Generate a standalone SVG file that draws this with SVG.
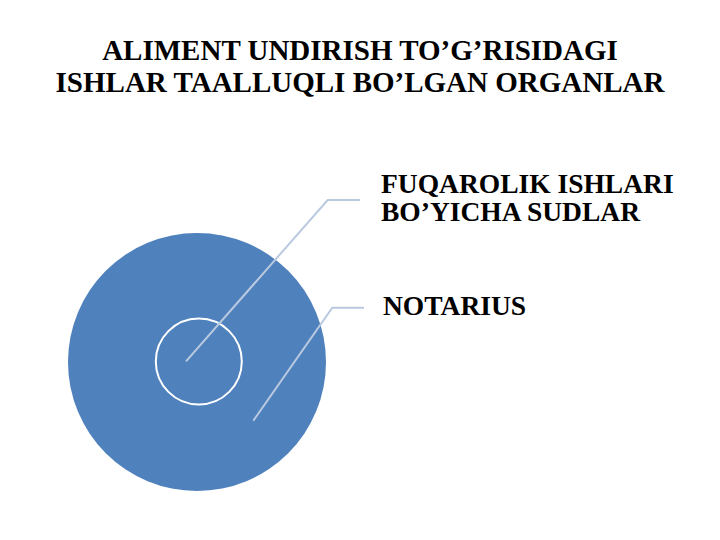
<svg xmlns="http://www.w3.org/2000/svg" width="720" height="540" viewBox="0 0 720 540">
<style>
.t{font-family:"Liberation Serif","Times New Roman",serif;font-weight:bold;fill:#000;}
.title{font-size:29px;text-anchor:middle;}
.lbl{font-size:27.5px;}
.conn{fill:none;stroke:#b9c9e0;stroke-width:2;}
</style>
<rect width="720" height="540" fill="#fff"/>
<g id="title">
<text class="t title" x="360" y="60">ALIMENT UNDIRISH TO’G’RISIDAGI</text>
<text class="t title" x="360" y="92">ISHLAR TAALLUQLI BO’LGAN ORGANLAR</text>
</g>
<g id="outer-circle">
<circle cx="197" cy="362" r="129" fill="#4f81bd"/>
</g>
<g id="inner-circle">
<circle cx="198.8" cy="361.5" r="43" fill="none" stroke="#fff" stroke-width="2"/>
</g>
<g id="connectors">
<polyline class="conn" points="186,361.3 327.7,200 360,200"/>
<polyline class="conn" points="253.3,420.7 332.3,307.7 364,307.7"/>
</g>
<g id="label-sudlar">
<text class="t lbl" x="381" y="193">FUQAROLIK ISHLARI</text>
<text class="t lbl" x="381" y="221">BO’YICHA SUDLAR</text>
</g>
<g id="label-notarius">
<text class="t lbl" x="383" y="314.5">NOTARIUS</text>
</g>
</svg>
